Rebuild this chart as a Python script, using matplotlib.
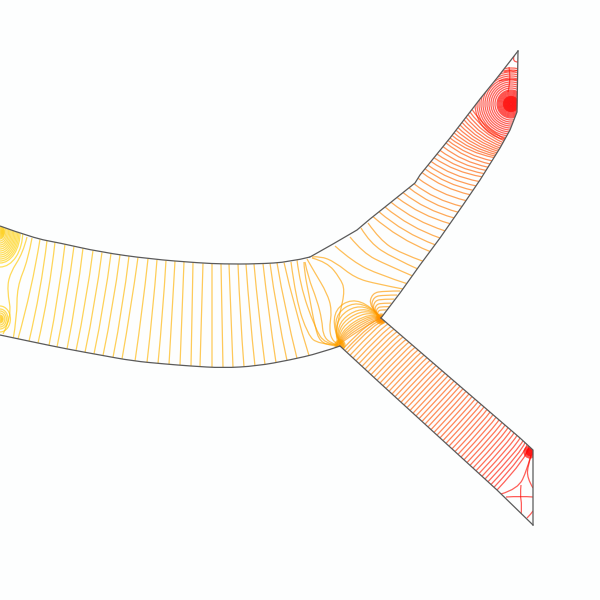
import numpy as np
import matplotlib
matplotlib.use("Agg")
import matplotlib.pyplot as plt
from matplotlib.colors import LinearSegmentedColormap
from matplotlib.patches import Ellipse, PathPatch, Polygon
from matplotlib.path import Path

# vessel walls, in picture pixels
top_wall_x = [0, 33, 60, 100, 150, 200, 223, 257, 290, 310, 333, 357, 370, 415, 420, 450, 480, 497, 518]
top_wall_y = [226, 238, 243, 252, 259, 263, 264, 264, 262, 257, 244, 230, 219, 183, 175, 138, 99, 78, 51]
arm_wall_x = [381, 400, 420, 440, 463, 480, 500, 510, 517, 518]
arm_wall_y = [318, 293, 265, 238, 205, 180, 148, 130, 112, 51]
branch_top_x = [381, 520, 533]
branch_top_y = [318, 438, 450]
branch_bot_x = [340, 380, 497, 533]
branch_bot_y = [346, 383, 490, 525]
bot_wall_x = [0, 33, 67, 100, 133, 165, 190, 223, 257, 290, 320, 340]
bot_wall_y = [335, 342, 349, 355, 361, 364, 366, 368, 366, 360, 353, 346]

# trunk lines: x on top wall, x on bottom wall, sideways bow, potential level
trunk_top = [40, 47, 55, 65, 74, 83, 93, 102, 111, 120, 129, 138, 148, 157, 166, 175, 184, 193,
             203, 212, 221, 229, 238, 246, 254, 263, 270, 277, 284]
trunk_bot = [18, 29, 38, 49, 57, 67, 76, 85, 94, 103, 113, 122, 135, 147, 158, 169, 180, 191,
             200, 212, 223, 233, 244, 255, 265, 276, 287, 297, 309]
trunk_bow = [3, 3, 3, 2, 2, 2, 2, 2, 2, 2, 2, 1, 1, 1, 1, 0, 0, 0,
             0, 0, 0, 0, -1, -1, -1, -1, -2, -2, -2]
trunk_lev = [.18, .19, .20, .21, .22, .23, .24, .25, .26, .27, .28, .29, .30, .31, .32, .33, .34, .35,
             .36, .37, .38, .39, .40, .41, .42, .43, .44, .45, .46]

# upper arm lines
arm_top = [373, 379, 385, 391, 397, 403, 409, 414, 418, 422, 425, 428, 431, 434, 437, 440, 443, 446,
           448, 450, 452, 454, 456, 458, 460, 462, 464, 466, 468, 470, 472]
arm_right = [430, 435, 440, 445, 450, 454, 458, 462, 466, 470, 473, 476, 479, 482, 484, 486, 488, 490,
             492, 494, 495, 496, 497, 498, 499, 500, 501, 502, 503, 504, 505]
arm_lev = [.56, .57, .58, .59, .60, .61, .62, .63, .64, .65, .66, .67, .68, .69, .70, .71, .72, .73,
           .74, .75, .76, .77, .78, .79, .80, .81, .82, .83, .84, .85, .86]

# lower branch lines, x on upper wall and x on lower wall
low_top = [382, 383, 384, 385, 388, 391, 394, 397, 400, 403, 406, 409, 412, 415, 418, 421, 424, 427,
           430, 433, 436, 439, 442, 445, 448, 451, 454, 457, 460, 463, 466, 469, 472, 475, 478, 481,
           484, 487, 490, 493, 496, 499, 502, 505, 508, 511, 514, 517, 520, 523, 525, 527, 529]
low_bot = [343, 345, 347, 350, 353, 356, 359, 362, 365, 368, 371, 374, 377, 380, 383, 386, 389, 392,
           395, 398, 401, 404, 407, 410, 413, 416, 419, 422, 425, 428, 431, 434, 437, 440, 443, 446,
           449, 452, 455, 458, 461, 464, 467, 470, 473, 476, 479, 482, 485, 488, 491, 494, 497]
low_lev = [.55, .55, .56, .56, .57, .58, .59, .59, .60, .61, .62, .62, .63, .64, .65, .65, .66, .67,
           .68, .68, .69, .70, .71, .71, .72, .73, .74, .74, .75, .76, .77, .77, .78, .79, .80, .80,
           .81, .82, .83, .83, .84, .85, .86, .87, .88, .89, .90, .91, .92, .93, .94, .95, .96]

# free running lines with their control points and level
free_lines = [
    ([27, 23, 10, 7, 12, 3], [237, 253, 273, 290, 317, 334], .14),
    ([32, 28, 17, 17, 13], [238, 260, 287, 317, 340], .16),
    ([291, 296, 308, 318, 338], [262, 300, 335, 344, 345], .46),
    ([297, 300, 315, 325, 338], [260, 285, 328, 344, 345], .47),
    ([304, 304, 310, 315, 320, 333, 338], [262, 270, 300, 327, 342, 346, 346], .47),
    ([305, 308, 317, 322, 323, 330, 338], [262, 277, 300, 320, 335, 343, 345], .48),
    ([307, 315, 327, 332, 329, 333, 338], [259, 273, 293, 310, 330, 342, 344], .48),
    ([312, 327, 340, 345, 340, 335, 338], [258, 262, 278, 290, 313, 335, 343], .49),
    ([312, 320, 335, 355, 377, 403], [257, 256, 262, 278, 284, 289], .50),
    ([335, 353, 380, 408], [246, 262, 275, 284], .51),
    ([350, 363, 387, 415], [237, 253, 265, 277], .52),
    ([361, 370, 393, 420], [228, 243, 258, 270], .53),
    ([368, 380, 400, 425], [223, 240, 253, 262], .54),
    ([499, 510, 518], [81, 78, 80], .97),
    ([509, 511, 508], [67, 80, 92], .97),
    ([504, 510, 514, 518], [72, 70, 72, 70], .97),
    ([514, 512, 518], [56, 62, 62], .97),
    ([506, 521, 533], [497, 496, 497], .98),
    ([521, 520, 522, 521], [485, 495, 505, 516], .98),
    ([527, 531, 533], [518, 514, 511], .98),
    ([501, 518, 527, 531], [494, 489, 470, 455], .97),
    ([533, 527, 528, 531], [488, 478, 465, 456], .97),
]

# arcs joining the two corners: height above the chord and level
corner_arc_h = [32, 28, 24, 20, 17, 14, 11, 9, 7, 5, 3, 1]
corner_arc_lev = [.47, .47, .48, .48, .49, .49, .50, .51, .52, .53, .54, .54]

# small fan above the right corner
fan_scale = [1, .85, .7, .55, .42, .3]
fan_dx = [0, -12, -9, 4, 19]
fan_dy = [0, -11, -25, -27, -27]

# rings round the singular points: centre, radii, width factor, level
ring_sets = [
    (0, 232, [1, 2, 3, 4, 5, 6, 7, 9, 11, 13, 15, 17, 19, 21, 23, 25, 27, 29, 31, 35], .65, .04),
    (0, 319, [1, 2, 3, 4, 6, 8, 10, 13], .8, .10),
    (340, 345, [.5, 1, 1.5, 2, 2.5, 3, 3.5, 4, 5], 1, .47),
    (381, 319, [.5, 1, 1.5, 2, 2.5, 3, 3.5, 4, 5], 1, .52),
    (511, 104, [.5, 1, 1.5, 2, 2.5, 3, 3.5, 4, 4.5, 5, 5.5, 6, 6.5, 7, 7.5, 8, 9, 10, 11, 12, 13, 14, 16, 18,
                20, 22, 24, 26, 28, 30, 32, 34, 36], 1, .93),
    (530, 452, [.5, 1, 1.5, 2, 2.5, 3, 3.5, 4, 5, 6], 1, .97),
]

line_w = 0.9
line_alpha = 0.65
wall_col = "#5a5a5a"
cmap = LinearSegmentedColormap.from_list("flow", ["#ffd500", "#ffa000", "#ff0000"])


def smooth(xs, ys):
    # quadratic spline with the given points as controls
    pts = np.column_stack([xs, ys]).astype(float)
    verts = [pts[0]]
    codes = [Path.MOVETO]
    for i in range(1, len(pts) - 1):
        verts.append(pts[i])
        codes.append(Path.CURVE3)
        if i < len(pts) - 2:
            verts.append((pts[i] + pts[i + 1]) / 2)
        else:
            verts.append(pts[-1])
        codes.append(Path.CURVE3)
    if len(pts) == 2:
        verts.append(pts[1])
        codes.append(Path.LINETO)
    return Path(verts, codes)


fig = plt.figure(figsize=(6, 6), dpi=100, facecolor="#fdfefe")
ax = fig.add_axes([0, 0, 1, 1])
ax.set_xlim(0, 600)
ax.set_ylim(600, 0)
ax.axis("off")

outline_x = top_wall_x + arm_wall_x[::-1][1:] + branch_top_x[1:] + branch_bot_x[::-1] + bot_wall_x[::-1][1:]
outline_y = top_wall_y + arm_wall_y[::-1][1:] + branch_top_y[1:] + branch_bot_y[::-1] + bot_wall_y[::-1][1:]
domain = Polygon(np.column_stack([outline_x, outline_y]), closed=True, fill=False, ec="none")
ax.add_patch(domain)


def add_line(xs, ys, lev):
    p = PathPatch(smooth(xs, ys), fill=False, ec=cmap(lev), lw=line_w, alpha=line_alpha)
    ax.add_patch(p)
    p.set_clip_path(domain)


# trunk
for t, b, bow, lev in zip(trunk_top, trunk_bot, trunk_bow, trunk_lev):
    yt = np.interp(t, top_wall_x, top_wall_y)
    yb = np.interp(b, bot_wall_x, bot_wall_y)
    add_line([t, (t + b) / 2 + bow, b], [yt, (yt + yb) / 2, yb], lev)

# upper arm
for t, r, lev in zip(arm_top, arm_right, arm_lev):
    yt = np.interp(t, top_wall_x, top_wall_y)
    yr = np.interp(r, arm_wall_x, arm_wall_y)
    add_line([t, (t + r) / 2 - 3, r], [yt, (yt + yr) / 2 + 5, yr], lev)

# lower branch, lines leave the lower wall square on
normal = np.array([0.68, -0.73])
for t, b, lev in zip(low_top, low_bot, low_lev):
    yt = np.interp(t, branch_top_x, branch_top_y)
    yb = np.interp(b, branch_bot_x, branch_bot_y)
    start = np.array([b, yb])
    reach = np.dot(np.array([t, yt]) - start, normal) * 0.85
    ctrl = start + normal * reach
    add_line([b, ctrl[0], t], [yb, ctrl[1], yt], lev)

# arcs between the corners
p0 = np.array([340.0, 344.0])
p1 = np.array([381.0, 318.0])
chord = p1 - p0
up = np.array([chord[1], -chord[0]]) / np.hypot(*chord)
for h, lev in zip(corner_arc_h, corner_arc_lev):
    c1 = p0 + chord * 0.1 + up * h
    c2 = p0 + chord * 0.9 + up * h
    add_line([p0[0], c1[0], c2[0], p1[0]], [p0[1], c1[1], c2[1], p1[1]], lev)

# fan on the arm wall
for s in fan_scale:
    add_line([381 + s * d for d in fan_dx], [318 + s * d for d in fan_dy], .53)

for xs, ys, lev in free_lines:
    add_line(xs, ys, lev)

for cx, cy, radii, squash, lev in ring_sets:
    for r in radii:
        c = Ellipse((cx, cy), 2 * r * squash, 2 * r, fill=False,
                    ec=cmap(lev + 0.07 * (1 - r / max(radii))), lw=line_w, alpha=line_alpha)
        ax.add_patch(c)
        c.set_clip_path(domain)

# walls on top, the long curved stretches smoothed
ax.add_patch(PathPatch(smooth(top_wall_x[:10], top_wall_y[:10]), fill=False, ec=wall_col, lw=0.9))
ax.plot(top_wall_x[9:], top_wall_y[9:], color=wall_col, lw=0.9)
ax.plot(arm_wall_x, arm_wall_y, color=wall_col, lw=0.9)
ax.plot(branch_top_x + [533], branch_top_y + [525], color=wall_col, lw=0.9)
ax.plot(branch_bot_x, branch_bot_y, color=wall_col, lw=0.9)
ax.add_patch(PathPatch(smooth(bot_wall_x, bot_wall_y), fill=False, ec=wall_col, lw=0.9))

fig.savefig("out.png", dpi=100, facecolor=fig.get_facecolor())
